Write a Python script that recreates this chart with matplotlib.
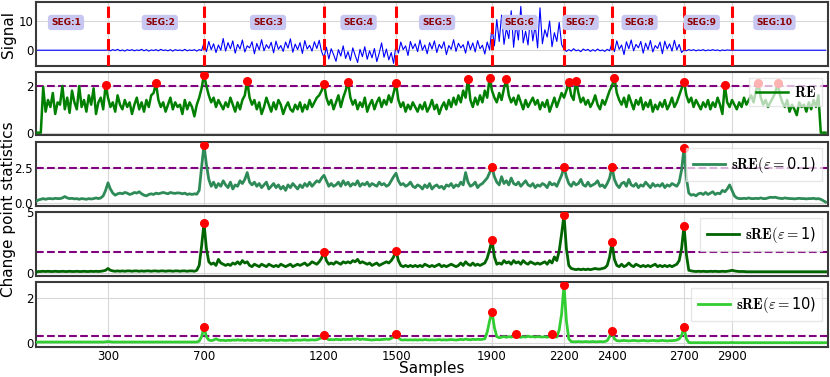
import numpy as np
import matplotlib
matplotlib.use("Agg")
import matplotlib.pyplot as plt

plt.rcParams['font.family'] = ['DejaVu Sans']
plt.rcParams['mathtext.fontset'] = 'cm'

# ---------------- data (one value every 10 samples, 0..3290) ----------------
step = 10
signal = [
    # SEG 1 (0-290)
    0, 0, 0, 0, 0, 0, 0, 0, 0, 0, 0, 0, 0, 0, 0, 0, 0, 0, 0, 0, 0, 0, 0, 0, 0, 0, 0, 0, 0, 0,
    # SEG 2 (300-690)
    0.1, -0.2, 0.2, -0.1, 0.3, -0.2, 0.1, -0.3, 0.2, -0.1, 0.2, -0.2, 0.1, -0.1, 0.3, -0.2, 0.2, -0.3, 0.1, -0.1,
    0.2, -0.2, 0.3, -0.1, 0.1, -0.2, 0.2, -0.3, 0.2, -0.1, 0.1, -0.2, 0.3, -0.2, 0.1, -0.1, 0.2, -0.3, 0.2, -0.1,
    # SEG 3 (700-1190)
    2.5, -0.5, 3.0, 0.2, 2.2, -0.8, 1.8, 0.0, 4.0, -0.3, 2.6, 0.5, 3.2, -1.0, 2.0, 0.4, 3.5, -0.6, 1.5, 0.8,
    2.9, -1.2, 2.3, 0.1, 3.6, -0.2, 1.9, 0.6, 2.7, -0.9, 3.1, 0.3, 1.6, -0.4, 2.8, 0.7, 3.9, -0.7, 2.1, 0.2,
    2.6, -1.1, 3.3, 0.4, 1.7, -0.3, 2.9, 0.6, 3.4, -0.5,
    # SEG 4 (1200-1490)
    -2.5, 1.0, -3.0, 0.5, -1.5, -3.8, 0.2, -2.0, 1.5, -2.8, -0.5, -3.5, 0.8, -1.8, -4.2, 0.3, -2.2, 1.2, -3.1, -0.2,
    -2.6, 0.6, -3.9, -1.0, 2.5, -2.4, 0.4, -3.3, -0.8, -4.5,
    # SEG 5 (1500-1890)
    2.0, -1.0, 2.8, 0.2, 1.5, -1.8, 3.0, 0.5, 2.2, -0.5, 3.5, 0.0, 1.8, -1.2, 2.6, 0.4, 3.2, -0.8, 2.0, 0.6,
    2.9, -1.5, 1.6, 0.3, 3.6, -0.4, 2.4, 0.8, 1.9, -1.0, 3.1, 0.2, 2.5, -0.6, 3.3, 0.5, 1.7, -1.3, 2.8, 0.1,
    # SEG 6 (1900-2190)
    8.0, 1.5, 10.5, 3.0, 12.0, 2.0, 7.5, 4.0, 13.5, 1.0, 9.0, 3.5, 15.0, 2.5, 6.5, 1.8, 11.0, 3.2, 8.5, 0.8,
    14.5, 2.2, 7.0, 4.5, 10.0, 1.2, 6.0, 3.0, 9.5, 2.0,
    # SEG 7 (2200-2390)
    0.3, -0.4, 0.2, -0.3, 0.5, -0.2, 0.1, -0.5, 0.4, -0.1, 0.3, -0.4, 0.2, -0.3, 0.4, -0.2, 0.1, -0.4, 0.3, -0.2,
    # SEG 8 (2400-2690)
    2.5, -0.5, 3.2, 0.3, 1.8, -1.5, 2.9, 0.5, 3.5, -0.2, 2.0, 0.8, 3.0, -1.0, 2.4, 0.2, 3.3, -0.6, 1.6, 0.6,
    2.8, -1.2, 3.1, 0.4, 2.2, -0.3, 3.4, 0.1, 2.0, -0.8,
    # SEG 9 (2700-2890)
    0.1, -0.2, 0.2, -0.1, 0.2, -0.2, 0.1, -0.1, 0.2, -0.2, 0.1, -0.1, 0.2, -0.1, 0.1, -0.2, 0.1, -0.1, 0.1, 0.0,
    # SEG 10 (2900-3290)
    0, 0, 0, 0, 0, 0, 0, 0, 0, 0, 0, 0, 0, 0, 0, 0, 0, 0, 0, 0,
    0, 0, 0, 0, 0, 0, 0, 0, 0, 0, 0, 0, 0, 0, 0, 0, 0, 0, 0, 0,
]

re_stat = [
    0, 0, 0, 1.95, 0.9, 1.4, 1.1, 1.7, 0.8, 1.3,
    1.2, 2.0, 1.0, 1.5, 0.85, 1.8, 1.3, 1.0, 2.0, 1.1,
    1.4, 0.9, 1.6, 1.2, 1.9, 0.8, 1.3, 1.5, 1.0, 2.04,
    1.5, 1.1, 1.3, 0.9, 1.6, 1.2, 1.0, 1.4, 1.1, 1.3,
    0.8, 1.2, 1.5, 1.0, 1.3, 0.9, 1.4, 1.1, 1.6, 1.7,
    2.12, 1.4, 1.1, 1.3, 0.9, 1.2, 1.5, 1.0, 1.3, 1.1,
    1.2, 0.8, 1.4, 1.0, 1.3, 1.1, 0.7, 1.2, 1.5, 1.9,
    2.48, 2.0, 1.6, 1.3, 1.5, 1.1, 1.4, 1.2, 1.0, 1.3,
    1.1, 1.5, 1.2, 0.9, 1.3, 1.0, 1.4, 1.6, 2.22, 1.5,
    1.2, 1.4, 1.0, 1.3, 0.8, 1.1, 1.5, 1.2, 0.9, 1.3,
    1.0, 1.4, 1.2, 0.8, 1.1, 1.3, 1.0, 0.9, 1.2, 1.0,
    1.3, 0.9, 1.2, 1.0, 1.4, 1.1, 1.3, 1.5, 1.6, 1.8,
    2.09, 1.5, 1.2, 1.4, 1.0, 1.3, 1.6, 1.1, 1.5, 1.8,
    2.19, 1.5, 1.2, 1.4, 1.0, 1.3, 1.1, 1.5, 0.9, 1.2,
    1.4, 1.0, 1.3, 1.5, 1.1, 1.4, 1.2, 1.6, 1.3, 1.7,
    2.12, 1.4, 1.1, 1.3, 0.9, 1.2, 1.0, 1.3, 1.1, 0.9,
    1.2, 1.0, 1.3, 0.9, 1.1, 1.4, 1.0, 1.2, 0.8, 1.1,
    1.3, 1.0, 1.4, 1.1, 1.5, 1.2, 1.6, 1.3, 1.8, 1.5,
    2.30, 1.4, 1.1, 1.5, 1.2, 1.6, 1.3, 1.8, 1.5, 2.36,
    1.8, 1.5, 1.3, 1.7, 1.4, 1.9, 2.29, 1.6, 1.3, 1.5,
    1.2, 1.6, 1.3, 1.0, 1.4, 1.1, 1.3, 1.5, 1.2, 1.4,
    1.0, 1.3, 1.1, 1.4, 0.9, 1.2, 1.5, 1.1, 1.4, 1.7,
    1.5, 1.8, 2.15, 1.6, 1.4, 2.23, 1.7, 1.3, 1.5, 1.2,
    1.4, 1.1, 1.3, 1.6, 1.2, 1.0, 1.4, 1.2, 1.5, 1.8,
    2.0, 2.36, 1.7, 1.4, 1.2, 1.5, 1.1, 1.6, 1.3, 1.0,
    1.4, 1.2, 1.5, 1.0, 1.3, 1.1, 1.4, 0.9, 1.2, 1.0,
    1.3, 1.1, 1.4, 1.0, 1.2, 1.5, 1.1, 1.3, 1.6, 1.9,
    2.19, 1.6, 1.3, 1.5, 1.1, 1.4, 1.2, 1.0, 1.3, 1.1,
    1.4, 1.0, 1.3, 1.1, 1.5, 1.2, 0.8, 2.04, 1.3, 1.1,
    1.4, 1.2, 1.0, 1.3, 1.1, 1.5, 1.2, 1.4, 1.6, 1.3,
    1.8, 2.12, 1.5, 1.2, 1.4, 1.1, 1.3, 1.5, 1.7, 2.12,
    1.6, 1.3, 1.1, 1.4, 0.9, 1.2, 1.0, 0.75, 1.3, 1.1,
    1.2, 0.9, 1.3, 1.0, 1.4, 1.1, 1.6, 0, 0, 0,
]

sre_01 = [
    0.1, 0.2, 0.25, 0.3, 0.25, 0.3, 0.3, 0.28, 0.32, 0.3,
    0.3, 0.35, 0.45, 0.35, 0.3, 0.32, 0.28, 0.3, 0.25, 0.3,
    0.28, 0.25, 0.3, 0.27, 0.3, 0.35, 0.3, 0.35, 0.5, 0.9,
    1.45, 1.0, 0.7, 0.55, 0.65, 0.7, 0.65, 0.75, 0.7, 0.6,
    0.65, 0.75, 0.7, 0.8, 0.65, 0.55, 0.5, 0.6, 0.65, 0.6,
    0.7, 0.65, 0.7, 0.75, 0.7, 0.65, 0.75, 0.7, 0.68, 0.72,
    0.7, 0.65, 0.7, 0.6, 0.65, 0.6, 0.65, 0.62, 0.9, 2.6,
    4.2, 2.8, 1.7, 1.2, 1.5, 1.1, 1.4, 1.2, 1.6, 1.3,
    1.1, 1.5, 1.0, 1.3, 1.2, 1.6, 1.4, 1.7, 2.2, 1.5,
    1.3, 1.5, 1.2, 1.4, 1.1, 1.3, 1.5, 1.0, 1.2, 1.4,
    1.1, 1.3, 1.0, 1.2, 0.9, 1.3, 1.1, 1.4, 1.2, 1.0,
    1.3, 1.1, 1.4, 1.2, 1.5, 1.2, 1.4, 1.6, 1.5, 1.8,
    2.0, 1.6, 1.2, 1.4, 1.2, 1.3, 1.5, 1.2, 1.6, 1.3,
    1.5, 1.2, 1.4, 1.3, 1.6, 1.2, 1.4, 1.3, 1.5, 1.2,
    1.4, 1.3, 1.2, 1.5, 1.3, 1.4, 1.2, 1.3, 1.6, 1.9,
    2.15, 1.6, 1.3, 1.4, 1.2, 1.3, 1.5, 1.2, 1.1, 1.3,
    1.2, 1.0, 1.3, 1.1, 1.4, 1.0, 1.2, 1.3, 1.1, 1.2,
    1.0, 1.3, 1.2, 1.4, 1.1, 1.3, 1.2, 1.5, 1.3, 2.2,
    1.5, 1.2, 1.3, 1.5, 1.1, 1.3, 1.4, 1.6, 1.8, 2.2,
    2.58, 1.9, 1.5, 1.3, 1.9, 1.4, 1.6, 1.3, 1.8, 1.4,
    1.3, 1.5, 1.2, 1.4, 1.6, 1.3, 1.2, 1.4, 1.1, 1.3,
    1.2, 1.4, 1.3, 1.1, 1.5, 1.3, 1.4, 1.2, 1.6, 2.0,
    2.58, 1.9, 1.4, 1.2, 1.5, 1.3, 1.4, 1.7, 1.3, 1.2,
    1.5, 1.2, 1.3, 1.4, 1.6, 1.2, 1.3, 1.1, 1.4, 1.8,
    2.58, 1.7, 1.3, 1.1, 1.4, 1.5, 1.2, 1.7, 1.3, 1.2,
    1.4, 1.1, 1.3, 1.2, 1.5, 1.3, 1.1, 1.4, 1.2, 1.3,
    1.2, 1.4, 1.1, 1.3, 1.2, 1.4, 1.3, 1.2, 1.5, 2.4,
    3.97, 1.8, 0.7, 0.55, 0.6, 0.5, 0.65, 0.7, 0.6, 0.75,
    0.6, 0.7, 0.8, 0.6, 0.7, 0.65, 0.9, 0.8, 1.0, 1.3,
    0.9, 0.5, 0.35, 0.3, 0.3, 0.32, 0.3, 0.35, 0.3, 0.3,
    0.32, 0.3, 0.35, 0.3, 0.3, 0.35, 0.4, 0.38, 0.4, 0.35,
    0.32, 0.3, 0.35, 0.32, 0.3, 0.3, 0.28, 0.3, 0.32, 0.3,
    0.3, 0.28, 0.3, 0.3, 0.32, 0.28, 0.3, 0.25, 0.15, 0.05,
]

sre_1 = [
    0.05, 0.1, 0.1, 0.12, 0.1, 0.12, 0.1, 0.1, 0.12, 0.1,
    0.1, 0.12, 0.1, 0.1, 0.12, 0.1, 0.1, 0.12, 0.1, 0.1,
    0.12, 0.1, 0.1, 0.12, 0.1, 0.12, 0.1, 0.12, 0.15, 0.2,
    0.35, 0.2, 0.15, 0.12, 0.15, 0.12, 0.15, 0.12, 0.15, 0.15,
    0.12, 0.15, 0.15, 0.12, 0.15, 0.12, 0.15, 0.15, 0.12, 0.15,
    0.15, 0.12, 0.15, 0.15, 0.12, 0.15, 0.15, 0.12, 0.15, 0.15,
    0.12, 0.15, 0.15, 0.12, 0.15, 0.15, 0.12, 0.2, 0.6, 2.2,
    4.09, 2.0, 0.9, 0.7, 0.8, 0.6, 1.1, 0.8, 0.7, 0.6,
    0.7, 0.6, 0.8, 0.7, 0.9, 0.7, 1.0, 0.8, 0.9, 0.6,
    0.5, 0.7, 0.6, 0.5, 0.7, 0.6, 0.5, 0.7, 0.6, 0.5,
    0.6, 0.5, 0.7, 0.6, 0.5, 0.6, 0.7, 0.5, 0.6, 0.7,
    0.6, 0.7, 0.8, 0.6, 0.7, 0.9, 0.8, 0.7, 0.9, 1.2,
    1.74, 1.0, 0.7, 0.8, 0.7, 0.9, 0.8, 0.7, 0.9, 0.8,
    0.9, 0.8, 1.0, 0.9, 1.1, 0.8, 0.9, 0.8, 0.7, 0.8,
    0.6, 0.7, 0.8, 0.6, 0.7, 0.8, 0.9, 0.8, 1.0, 1.3,
    1.82, 1.0, 0.6, 0.5, 0.6, 0.5, 0.6, 0.5, 0.6, 0.5,
    0.6, 0.5, 0.7, 0.6, 0.5, 0.6, 0.5, 0.6, 0.7, 0.5,
    0.6, 0.5, 0.6, 0.7, 0.6, 0.5, 0.6, 0.8, 0.6, 0.9,
    0.7, 0.6, 0.8, 0.6, 0.7, 0.6, 0.7, 0.8, 1.2, 1.9,
    2.7, 1.3, 0.7, 0.8, 0.7, 1.0, 0.8, 0.9, 0.7, 1.0,
    0.8, 0.9, 0.7, 1.0, 0.8, 0.7, 0.9, 0.8, 0.7, 0.8,
    0.7, 0.8, 0.9, 0.7, 1.0, 0.8, 1.3, 1.0, 1.8, 3.2,
    4.78, 2.0, 0.6, 0.35, 0.3, 0.25, 0.3, 0.25, 0.3, 0.25,
    0.3, 0.25, 0.3, 0.35, 0.3, 0.3, 0.35, 0.4, 0.6, 1.3,
    2.49, 1.1, 0.6, 0.5, 0.7, 0.5, 0.6, 0.8, 0.6, 0.5,
    0.7, 0.6, 0.5, 0.6, 0.5, 0.6, 0.5, 0.6, 0.7, 0.5,
    0.6, 0.5, 0.6, 0.5, 0.6, 0.5, 0.6, 0.7, 1.0, 2.0,
    3.87, 1.5, 0.2, 0.15, 0.12, 0.1, 0.12, 0.1, 0.12, 0.1,
    0.1, 0.12, 0.1, 0.12, 0.1, 0.1, 0.12, 0.1, 0.12, 0.15,
    0.2, 0.15, 0.12, 0.1, 0.1, 0.1, 0.08, 0.08, 0.08, 0.08,
    0.08, 0.08, 0.08, 0.08, 0.08, 0.08, 0.08, 0.08, 0.08, 0.08,
    0.08, 0.08, 0.08, 0.08, 0.08, 0.08, 0.08, 0.08, 0.08, 0.08,
    0.08, 0.08, 0.08, 0.08, 0.08, 0.08, 0.08, 0.08, 0.08, 0.08,
]

sre_10 = [
    0.05, 0.06, 0.06, 0.06, 0.06, 0.06, 0.06, 0.06, 0.06, 0.06,
    0.06, 0.06, 0.06, 0.06, 0.06, 0.06, 0.06, 0.06, 0.06, 0.06,
    0.06, 0.06, 0.06, 0.06, 0.06, 0.06, 0.06, 0.06, 0.06, 0.07,
    0.08, 0.07, 0.06, 0.06, 0.06, 0.06, 0.06, 0.06, 0.06, 0.06,
    0.06, 0.06, 0.06, 0.06, 0.06, 0.06, 0.06, 0.06, 0.06, 0.06,
    0.06, 0.06, 0.06, 0.06, 0.06, 0.06, 0.06, 0.06, 0.06, 0.06,
    0.06, 0.06, 0.06, 0.06, 0.06, 0.06, 0.06, 0.06, 0.1, 0.3,
    0.71, 0.3, 0.15, 0.12, 0.15, 0.2, 0.15, 0.13, 0.14, 0.12,
    0.14, 0.13, 0.15, 0.14, 0.16, 0.14, 0.15, 0.13, 0.15, 0.14,
    0.13, 0.15, 0.14, 0.13, 0.14, 0.15, 0.13, 0.14, 0.15, 0.13,
    0.14, 0.13, 0.15, 0.14, 0.13, 0.14, 0.15, 0.13, 0.14, 0.15,
    0.14, 0.15, 0.16, 0.14, 0.15, 0.16, 0.15, 0.16, 0.2, 0.25,
    0.37, 0.22, 0.16, 0.17, 0.16, 0.18, 0.17, 0.16, 0.18, 0.17,
    0.18, 0.17, 0.2, 0.18, 0.21, 0.17, 0.19, 0.18, 0.17, 0.16,
    0.15, 0.16, 0.17, 0.16, 0.17, 0.18, 0.19, 0.18, 0.22, 0.28,
    0.41, 0.25, 0.16, 0.15, 0.16, 0.15, 0.16, 0.15, 0.16, 0.15,
    0.16, 0.15, 0.17, 0.16, 0.15, 0.16, 0.15, 0.16, 0.17, 0.15,
    0.16, 0.15, 0.16, 0.17, 0.16, 0.15, 0.16, 0.18, 0.16, 0.19,
    0.17, 0.16, 0.18, 0.17, 0.18, 0.17, 0.18, 0.2, 0.5, 1.0,
    1.4, 0.7, 0.3, 0.25, 0.28, 0.3, 0.27, 0.3, 0.28, 0.32,
    0.40, 0.3, 0.27, 0.3, 0.28, 0.32, 0.29, 0.3, 0.28, 0.3,
    0.29, 0.28, 0.3, 0.27, 0.32, 0.41, 0.3, 0.28, 0.6, 1.3,
    2.59, 1.0, 0.2, 0.08, 0.07, 0.07, 0.08, 0.07, 0.07, 0.08,
    0.07, 0.07, 0.08, 0.07, 0.07, 0.08, 0.07, 0.08, 0.12, 0.3,
    0.55, 0.2, 0.12, 0.11, 0.12, 0.13, 0.12, 0.11, 0.12, 0.13,
    0.12, 0.11, 0.12, 0.13, 0.12, 0.11, 0.12, 0.13, 0.12, 0.11,
    0.12, 0.13, 0.12, 0.11, 0.12, 0.12, 0.13, 0.15, 0.2, 0.35,
    0.71, 0.2, 0.04, 0.03, 0.03, 0.03, 0.03, 0.03, 0.03, 0.03,
    0.03, 0.03, 0.03, 0.03, 0.03, 0.03, 0.03, 0.03, 0.03, 0.03,
    0.04, 0.03, 0.03, 0.03, 0.03, 0.03, 0.03, 0.03, 0.03, 0.03,
    0.03, 0.03, 0.03, 0.03, 0.03, 0.03, 0.03, 0.03, 0.03, 0.03,
    0.03, 0.03, 0.03, 0.03, 0.03, 0.03, 0.03, 0.03, 0.03, 0.03,
    0.03, 0.03, 0.03, 0.03, 0.03, 0.03, 0.03, 0.03, 0.03, 0.03,
]

breakpoints = [300, 700, 1200, 1500, 1900, 2200, 2400, 2700, 2900]
seg_labels = ['SEG:1', 'SEG:2', 'SEG:3', 'SEG:4', 'SEG:5',
              'SEG:6', 'SEG:7', 'SEG:8', 'SEG:9', 'SEG:10']
seg_label_x = [125, 516, 967, 1344, 1671, 2015, 2269, 2515, 2774, 3077]

re_peaks = [290, 500, 700, 880, 1200, 1300, 1500, 1800, 1890, 1960,
            2220, 2250, 2410, 2700, 2870, 3010, 3090]
sre01_peaks = [700, 1900, 2200, 2400, 2700]
sre1_peaks = [700, 1200, 1500, 1900, 2200, 2400, 2700]
sre10_peaks = [700, 1200, 1500, 1900, 2000, 2150, 2200, 2400, 2700]

thresholds = [2.02, 2.5, 1.69, 0.34]
xticks = [300, 700, 1200, 1500, 1900, 2200, 2400, 2700, 2900]

# ---------------- figure ----------------
W, H = 830, 377
fig = plt.figure(figsize=(W / 100, H / 100), dpi=100)
left, right = 36, 828
panels_px = [(2, 66), (72, 135), (142, 206), (212, 276), (282, 347)]
axes = []
for (t, b) in panels_px:
    ax = fig.add_axes([left / W, 1 - b / H, (right - left) / W, (b - t) / H])
    axes.append(ax)

x = np.arange(len(signal)) * step
spine_col = '#3a3a3a'

for ax in axes:
    ax.set_xlim(0, 3300)
    ax.set_xticks(xticks)
    ax.grid(True, color='#d8d8d8', lw=0.8)
    ax.set_axisbelow(True)
    ax.tick_params(length=0, labelsize=8.5, pad=2)
    for s in ax.spines.values():
        s.set_color(spine_col)
        s.set_linewidth(1.5)
    if ax is not axes[-1]:
        ax.tick_params(labelbottom=False)

# Panel 1: signal
ax = axes[0]
ax.plot(x, signal, color='blue', lw=0.8)
ax.set_ylim(-5.4, 16.5)
ax.set_yticks([0, 10])
for bp in breakpoints:
    ax.axvline(bp, color='red', lw=2.2, ls='--', zorder=4)
for lx, lab in zip(seg_label_x, seg_labels):
    ax.text(lx, 9.5, lab, ha='center', va='center', fontsize=6.5, fontweight='bold',
            color='#8b0000', zorder=5,
            bbox=dict(boxstyle='round,pad=0.35', fc=(0.78, 0.78, 0.95), ec='none'))

series = [re_stat, sre_01, sre_1, sre_10]
peaks = [re_peaks, sre01_peaks, sre1_peaks, sre10_peaks]
colors = ['green', 'seagreen', 'darkgreen', 'limegreen']
lws = [1.8, 2.0, 2.0, 2.0]
labels = [r'$\mathbf{RE}$', r'$\mathbf{sRE}(\varepsilon=$0.1)',
          r'$\mathbf{sRE}(\varepsilon=$1)', r'$\mathbf{sRE}(\varepsilon=$10)']
ylims = [(-0.1, 2.6), (-0.24, 4.43), (-0.27, 5.0), (-0.16, 2.72)]
yticks = [[0, 2], [0.0, 2.5], [0, 5], [0, 2]]
yfmt = ['{:.0f}', '{:.1f}', '{:.0f}', '{:.0f}']

for i, ax in enumerate(axes[1:]):
    vals = np.array(series[i])
    ax.plot(x, vals, color=colors[i], lw=lws[i], label=labels[i], zorder=3)
    ax.axhline(thresholds[i], color='purple', lw=1.5, ls='--', zorder=2)
    idx = [p // step for p in peaks[i]]
    ax.plot(x[idx], vals[idx], 'o', color='red', ms=5.5, zorder=4)
    ax.set_ylim(*ylims[i])
    ax.set_yticks(yticks[i])
    ax.set_yticklabels([yfmt[i].format(v) for v in yticks[i]])
    ax.legend(loc='upper right', fontsize=10.5, handlelength=2.2, handletextpad=0.4,
              framealpha=0.7, edgecolor='#dddddd', fancybox=False, borderpad=0.45,
              borderaxespad=0.3, bbox_to_anchor=(0.9985, 0.97))

axes[-1].set_xticklabels([str(t) for t in xticks])

fig.text(8.5 / W, 1 - 34 / H, 'Signal', rotation=90, ha='center', va='center', fontsize=11)
fig.text(8.5 / W, 1 - 209 / H, 'Change point statistics', rotation=90, ha='center',
         va='center', fontsize=11)
fig.text(432 / W, 1 - 368 / H, 'Samples', ha='center', va='center', fontsize=11)

fig.savefig('out.png', dpi=100)
